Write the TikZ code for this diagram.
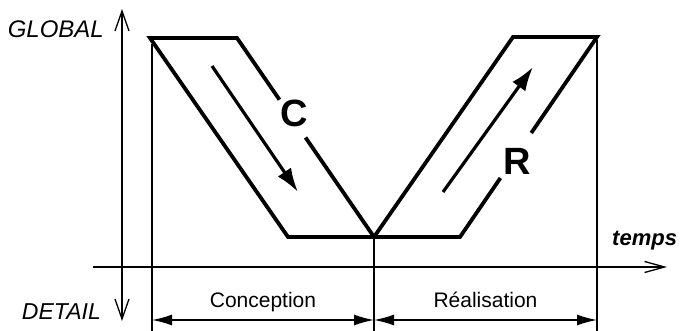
\documentclass[tikz,border=0pt]{standalone}
\usepackage{fontspec}
\setmainfont{Liberation Sans}
\usetikzlibrary{arrows.meta,calc}
\begin{document}
\begin{tikzpicture}[x=1pt,y=-1pt,
  band/.style={line width=3.8pt,line join=miter,line cap=butt},
  thinline/.style={line width=1.4pt},
  axisarrow/.style={thinline,{Straight Barb[length=20pt,width=14pt,line width=1.3pt]}-{Straight Barb[length=20pt,width=14pt,line width=1.3pt]}},
  haxis/.style={thinline,-{Straight Barb[length=20pt,width=11pt,line width=1.3pt]}},
  dimarrow/.style={thinline,{Latex[length=20pt,width=11pt]}-{Latex[length=20pt,width=11pt]}},
  flow/.style={line width=3.2pt,-{Latex[length=24pt,width=16pt]}},
  biglabel/.style={font=\fontsize{38}{40}\selectfont\bfseries,inner sep=0pt},
  axlabel/.style={font=\fontsize{24}{28}\selectfont\itshape,inner sep=0pt},
  phaselabel/.style={font=\fontsize{21}{24}\selectfont,inner sep=0pt,anchor=base}]
\useasboundingbox (0,0) rectangle (680,331);
% band corners
\coordinate (A) at (150,38);
\coordinate (B) at (237,38);
\coordinate (P) at (288,237);
\coordinate (V) at (374,237);
\coordinate (Q) at (460,237);
\coordinate (D) at (513,37);
\coordinate (E) at (597,37);
\coordinate (cb1) at ($(B)!0.31!(V)$);
\coordinate (cb2) at ($(B)!0.50!(V)$);
\coordinate (rb1) at ($(Q)!0.295!(E)$);
\coordinate (rb2) at ($(Q)!0.52!(E)$);
% thin verticals
\coordinate (L1) at (152,44);
\coordinate (L2) at (152,331);
\coordinate (M2) at (374,331);
\coordinate (R1) at (597,40);
\coordinate (R2) at (597,331);
\draw[thinline] (L1) -- (L2);
\draw[thinline] (V) -- (M2);
\draw[thinline] (R1) -- (R2);
% V bands
\draw[band] (cb1) -- (B) -- (A) -- (P) -- (Q) -- (rb1);
\draw[band] (cb2) -- (V) -- (D) -- (E) -- (rb2);
\node[biglabel] (C) at (294,113) {C};
\node[biglabel] (R) at (517,161) {R};
% flow arrows
\coordinate (c1) at (212,66);
\coordinate (c2) at (298,192);
\coordinate (r1) at (443,192);
\coordinate (r2) at (533,67);
\draw[flow] (c1) -- (c2);
\draw[flow] (r1) -- (r2);
% axes
\coordinate (ytop) at (122,9);
\coordinate (ybot) at (122,321);
\draw[axisarrow] (ybot) -- (ytop);
\coordinate (x0) at (93,267);
\coordinate (x1) at (667,267);
\draw[haxis] (x0) -- (x1);
\node[axlabel,anchor=east] (global) at (104,29) {GLOBAL};
\node[axlabel,font=\fontsize{23}{27}\selectfont\itshape,anchor=east] (detail) at (101,312) {DETAIL};
\node[axlabel,font=\fontsize{22}{26}\selectfont\bfseries\itshape,anchor=base west] (temps) at (612,245) {temps};
% dimension arrows
\coordinate (d1) at (152,320);
\coordinate (d2) at (374,320);
\coordinate (d3) at (597,320);
\draw[dimarrow] (d1) -- (d2);
\draw[dimarrow] (d2) -- (d3);
\node[phaselabel] (conc) at (263,307) {Conception};
\node[phaselabel] (real) at (485.5,307) {Réalisation};
\end{tikzpicture}
\end{document}
